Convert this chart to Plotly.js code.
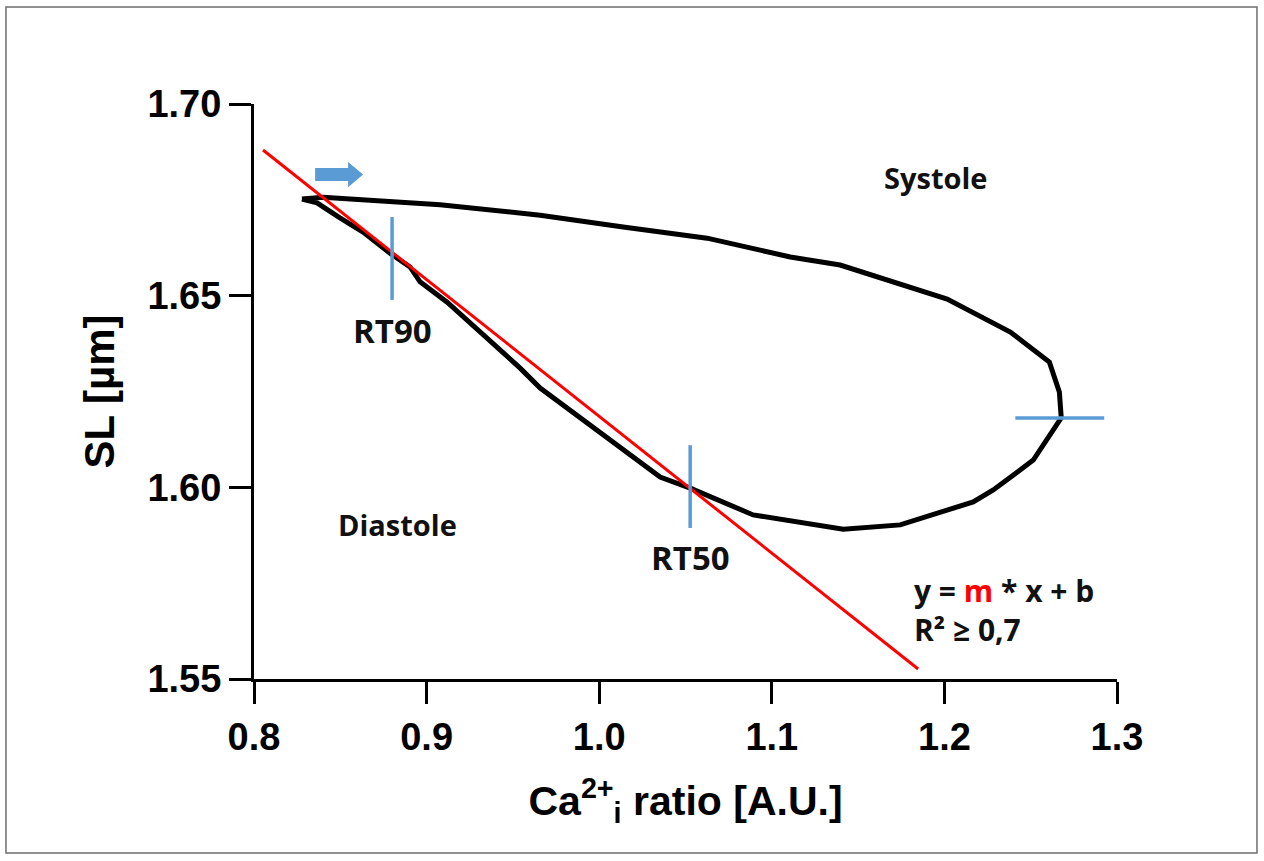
<!DOCTYPE html>
<html>
<head>
<meta charset="utf-8">
<script src="https://cdn.plot.ly/plotly-3.0.1.min.js"></script>
<style>
  html, body { margin: 0; padding: 0; background: #fff; }
  #chart { width: 1264px; height: 861px; }
</style>
</head>
<body>
<div id="chart"></div>
<script>
// Sarcomere length vs. Ca2+ ratio loop (one contraction cycle)
const loopCa = [0.8278, 0.8400, 0.9078, 0.9658, 1.0139, 1.0625, 1.1107, 1.1396, 1.2016, 1.2382,
                1.2608, 1.2666, 1.2677, 1.2515, 1.2283, 1.2167, 1.1744, 1.1414, 1.0892, 1.0585,
                1.0527, 1.0353, 1.0121, 1.0005, 0.9889, 0.9658, 0.9542, 0.9408, 0.9252, 0.9119,
                0.8962, 0.8904, 0.8788, 0.8632, 0.8498, 0.8365, 0.8278];
const loopSL = [1.6752, 1.6757, 1.6737, 1.6710, 1.6679, 1.6650, 1.6601, 1.6580, 1.6491, 1.6405,
                1.6327, 1.6249, 1.6181, 1.6071, 1.5993, 1.5962, 1.5902, 1.5891, 1.5928, 1.5988,
                1.5998, 1.6027, 1.6105, 1.6142, 1.6181, 1.6259, 1.6311, 1.6366, 1.6429, 1.6483,
                1.6536, 1.6575, 1.6611, 1.6666, 1.6703, 1.6742, 1.6752];

// Linear fit over the relaxation phase
const fitCa = [0.8052, 1.1848];
const fitSL = [1.688, 1.5526];

// Relaxation time markers and the peak-Ca2+ marker
const rt90Ca = [0.880, 0.880];
const rt90SL = [1.6705, 1.6489];
const rt50Ca = [1.0527, 1.0527];
const rt50SL = [1.6110, 1.5894];
const peakCa = [1.2411, 1.2926];
const peakSL = [1.6181, 1.6181];

// Axis ticks
const xTicks = [0.8, 0.9, 1.0, 1.1, 1.2, 1.3];
const xTickText = ['0.8', '0.9', '1.0', '1.1', '1.2', '1.3'];
const yTicks = [1.55, 1.60, 1.65, 1.70];
const yTickText = ['1.55', '1.60', '1.65', '1.70'];

const blue = '#5B9BD5';
const labelFamily = 'Open Sans, Noto Sans, sans-serif';
const labelFont = {family: labelFamily, size: 29, color: '#111', weight: 'bold'};
const rtFont = {family: labelFamily, size: 33, color: '#111', weight: 'bold'};
const eqFont = {family: labelFamily, size: 30, color: '#111', weight: 'bold'};

const traces = [
  {x: loopCa, y: loopSL, mode: 'lines', line: {color: '#000', width: 5, shape: 'linear'}, cliponaxis: false},
  {x: fitCa, y: fitSL, mode: 'lines', line: {color: '#ff0000', width: 3}, cliponaxis: false},
  {x: rt90Ca, y: rt90SL, mode: 'lines', line: {color: blue, width: 3.5}},
  {x: rt50Ca, y: rt50SL, mode: 'lines', line: {color: blue, width: 3.5}},
  {x: peakCa, y: peakSL, mode: 'lines', line: {color: blue, width: 3.5}, cliponaxis: false}
];

const axisFont = {family: 'Liberation Sans, Arial, sans-serif', size: 38, color: '#000', weight: 'bold'};

// Block arrow showing the direction of the loop
const ax0 = 0.8354, ax1 = 0.8545, ax2 = 0.8632;
const ay = [1.6849, 1.6833, 1.6816, 1.6799, 1.6783];
const arrowPath = `M ${ax0},${ay[1]} L ${ax1},${ay[1]} L ${ax1},${ay[0]} L ${ax2},${ay[2]} ` +
                  `L ${ax1},${ay[4]} L ${ax1},${ay[3]} L ${ax0},${ay[3]} Z`;

const layout = {
  width: 1264,
  height: 861,
  margin: {l: 254, r: 147, t: 104, b: 182, autoexpand: false},
  paper_bgcolor: '#fff',
  plot_bgcolor: '#fff',
  showlegend: false,
  xaxis: {
    range: [0.8, 1.3],
    tickvals: xTicks,
    ticktext: xTickText,
    showgrid: false,
    zeroline: false,
    showline: true,
    linecolor: '#000',
    linewidth: 3,
    ticks: 'outside',
    ticklen: 22,
    tickwidth: 3,
    tickcolor: '#000',
    tickfont: axisFont,
    automargin: false,
    title: {
      text: 'Ca<sup>2+</sup><sub>i</sub> ratio [A.U.]',
      font: {family: 'Liberation Sans, Arial, sans-serif', size: 41, color: '#000', weight: 'bold'},
      standoff: 30
    }
  },
  yaxis: {
    range: [1.55, 1.70],
    tickvals: yTicks,
    ticktext: yTickText,
    showgrid: false,
    zeroline: false,
    showline: true,
    linecolor: '#000',
    linewidth: 3,
    ticks: 'outside',
    ticklen: 22,
    tickwidth: 3,
    tickcolor: '#000',
    tickfont: axisFont,
    automargin: false,
    title: {
      text: 'SL [µm]',
      font: {family: 'Liberation Sans, Arial, sans-serif', size: 42, color: '#000', weight: 'bold'},
      standoff: 20
    }
  },
  shapes: [
    {type: 'path', xref: 'x', yref: 'y', path: arrowPath, fillcolor: blue, line: {width: 0}},
    {type: 'rect', xref: 'paper', yref: 'paper', x0: -0.2874, x1: 1.1622, y0: -0.3026, y1: 1.1687,
     line: {color: '#6e6e6e', width: 1.5}, fillcolor: 'rgba(0,0,0,0)'}
  ],
  annotations: [
    {x: 1.1947, y: 1.6807, xref: 'x', yref: 'y', text: 'Systole', showarrow: false, font: labelFont},
    {x: 0.8829, y: 1.5904, xref: 'x', yref: 'y', text: 'Diastole', showarrow: false, font: labelFont},
    {x: 0.880, y: 1.6408, xref: 'x', yref: 'y', text: 'RT90', showarrow: false, font: rtFont},
    {x: 1.0527, y: 1.5816, xref: 'x', yref: 'y', text: 'RT50', showarrow: false, font: rtFont},
    {x: 1.1814, y: 1.5680, xref: 'x', yref: 'y', xanchor: 'left', yanchor: 'middle', align: 'left',
     text: 'y = <span style="color:#ff0000">m</span> * x + b<br>R² ≥ 0,7',
     showarrow: false, font: eqFont}
  ]
};

Plotly.newPlot('chart', traces, layout, {staticPlot: true, displayModeBar: false});
</script>
</body>
</html>
